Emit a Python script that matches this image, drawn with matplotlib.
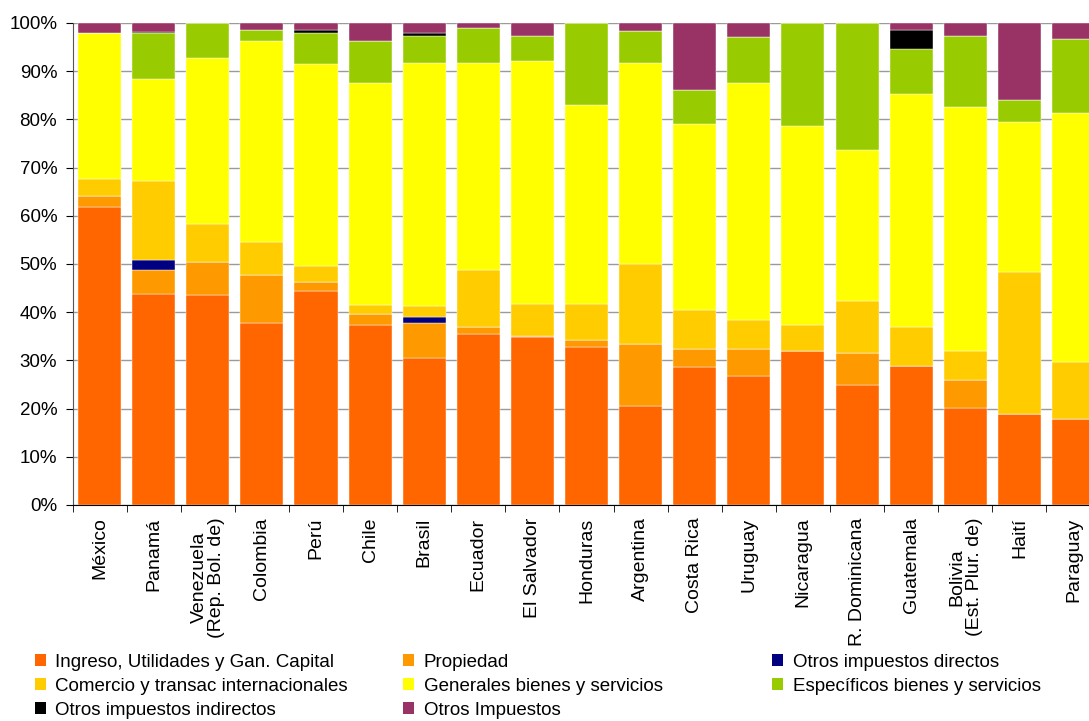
import numpy as np
import matplotlib.pyplot as plt
from matplotlib.patches import Patch

plt.rcParams['font.family'] = ['Liberation Sans', 'DejaVu Sans']

paises = ['México', 'Panamá', 'Venezuela\n(Rep. Bol. de)', 'Colombia', 'Perú', 'Chile',
          'Brasil', 'Ecuador', 'El Salvador', 'Honduras', 'Argentina', 'Costa Rica',
          'Uruguay', 'Nicaragua', 'R. Dominicana', 'Guatemala', 'Bolivia\n(Est. Plur. de)',
          'Haití', 'Paraguay']

# participación (%) de cada tipo de impuesto en la recaudación total
ingreso     = [61.9, 43.8, 43.5, 37.8, 44.3, 37.4, 30.5, 35.5, 34.8, 32.8, 20.5, 28.6, 26.7, 31.9, 24.8, 28.9, 20.2, 18.9, 17.8]
propiedad   = [2.3, 5.0, 6.9, 9.9, 1.9, 2.2, 7.2, 1.5, 0.3, 1.5, 12.8, 3.8, 5.7, 0.0, 6.8, 0.0, 5.7, 0.0, 0.0]
otros_dir   = [0.0, 2.0, 0.0, 0.0, 0.0, 0.0, 1.2, 0.0, 0.0, 0.0, 0.0, 0.0, 0.0, 0.0, 0.0, 0.0, 0.0, 0.0, 0.0]
comercio    = [3.4, 16.5, 8.0, 6.9, 3.4, 1.9, 2.4, 11.8, 6.5, 7.3, 16.7, 8.0, 6.0, 5.5, 10.7, 8.0, 6.0, 29.4, 11.9]
generales   = [30.3, 21.0, 34.4, 41.7, 41.8, 46.1, 50.5, 43.0, 50.5, 41.3, 41.8, 38.7, 49.1, 41.3, 31.4, 48.3, 50.7, 31.2, 51.6]
especificos = [0.0, 9.6, 7.2, 2.3, 6.5, 8.7, 5.6, 7.2, 5.3, 17.1, 6.5, 6.9, 9.6, 21.3, 26.3, 9.5, 14.8, 4.6, 15.4]
otros_ind   = [0.0, 0.3, 0.0, 0.0, 0.7, 0.0, 0.5, 0.0, 0.0, 0.0, 0.0, 0.0, 0.0, 0.0, 0.0, 3.9, 0.0, 0.0, 0.0]
otros_imp   = [2.1, 1.8, 0.0, 1.4, 1.4, 3.7, 2.1, 1.0, 2.6, 0.0, 1.7, 14.0, 2.9, 0.0, 0.0, 1.4, 2.6, 15.9, 3.3]

series = [
    ('Ingreso, Utilidades y Gan. Capital', ingreso, '#FF6600'),
    ('Propiedad', propiedad, '#FF9900'),
    ('Otros impuestos directos', otros_dir, '#000080'),
    ('Comercio y transac internacionales', comercio, '#FFCC00'),
    ('Generales bienes y servicios', generales, '#FFFF00'),
    ('Específicos bienes y servicios', especificos, '#99CC00'),
    ('Otros impuestos indirectos', otros_ind, '#000000'),
    ('Otros Impuestos', otros_imp, '#993366'),
]

fig = plt.figure(figsize=(10.89, 7.21), dpi=100)
ax = fig.add_axes([0.0666, 0.2996, 0.944, 0.6685])

x = np.arange(len(paises))
base = np.zeros(len(paises))
for nombre, vals, color in series:
    vals = np.array(vals)
    ax.bar(x, vals, 0.795, bottom=base, color=color, edgecolor='#ffffff', linewidth=0.3,
           label=nombre, zorder=2)
    base += vals

ax.set_xlim(-0.5, len(paises) - 0.5)
ax.set_ylim(0, 100)
ax.set_yticks(np.arange(0, 101, 10))
ax.set_yticklabels([f'{v}%' for v in range(0, 101, 10)], fontsize=13.5)
ax.yaxis.grid(True, color='#9a9a9a', linewidth=1, zorder=0)
ax.set_axisbelow(True)

ax.set_xticks(x)
ax.set_xticklabels(paises, rotation=90, fontsize=14, va='top', ha='center', linespacing=1.05)
ax.tick_params(axis='x', length=0, pad=9)
ax.set_xticks(np.arange(-0.5, len(paises), 1), minor=True)
ax.tick_params(axis='x', which='minor', length=5, direction='out', color='black')
ax.tick_params(axis='y', length=5, direction='out', color='black', pad=6)

for s in ['top', 'right']:
    ax.spines[s].set_visible(False)
ax.spines['left'].set_color('#555555')
ax.spines['bottom'].set_color('black')

# leyenda en tres columnas, llenadas por filas
handles = [Patch(facecolor=c, edgecolor='none') for _, _, c in series]
labels = [n for n, _, _ in series]
columnas = [([0, 3, 6], 0.032), ([1, 4, 7], 0.370), ([2, 5], 0.709)]
for idx, xpos in columnas:
    fig.legend([handles[i] for i in idx], [labels[i] for i in idx],
               loc='upper left', bbox_to_anchor=(xpos, 0.0935), frameon=False,
               fontsize=13.5, handlelength=0.6, handleheight=0.6, handletextpad=0.5,
               labelspacing=0.38, borderaxespad=0, borderpad=0)

fig.savefig('out.png', dpi=100)
